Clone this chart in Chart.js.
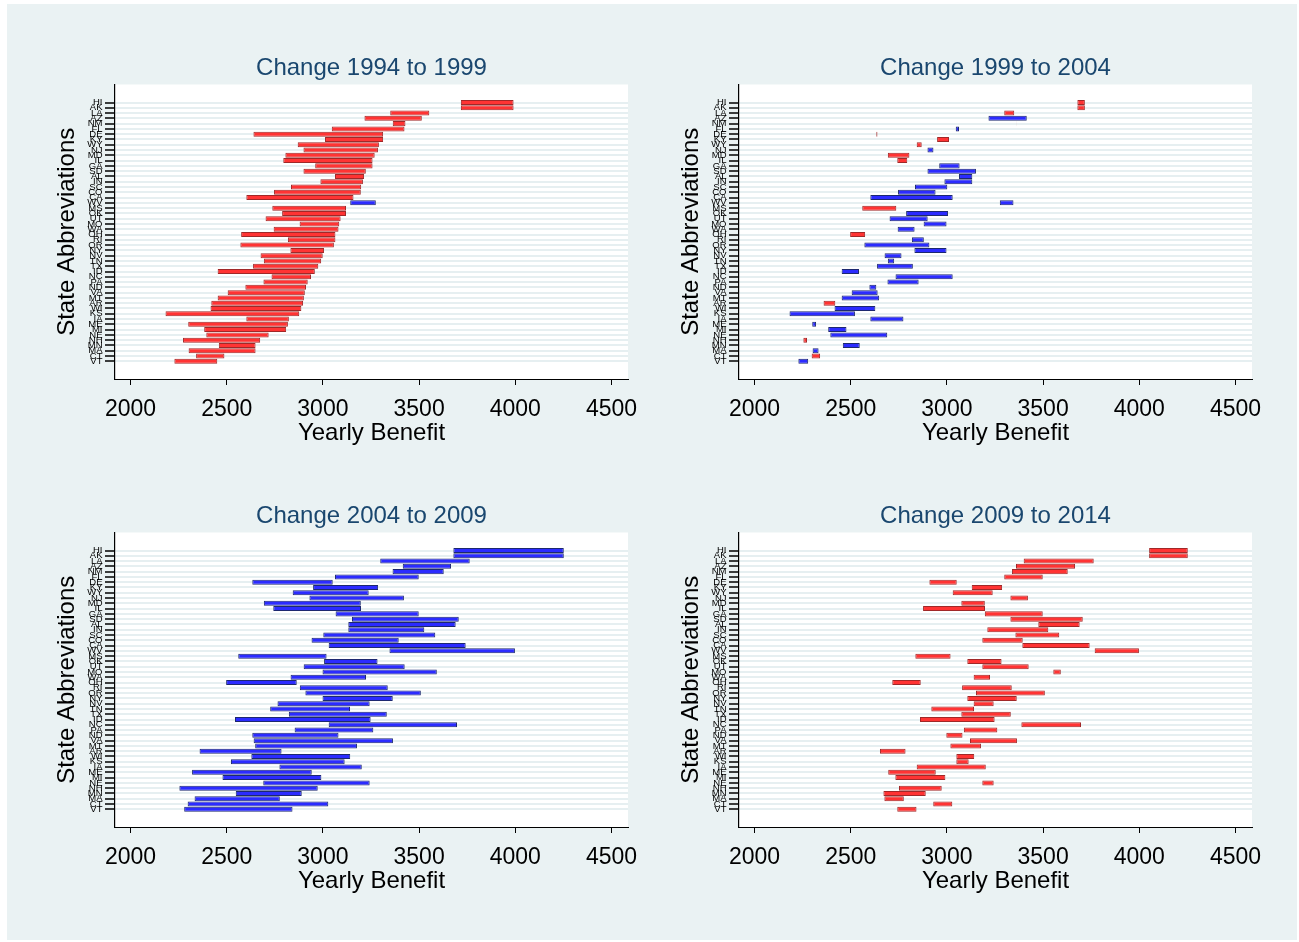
<!DOCTYPE html>
<html>
<head>
<meta charset="utf-8">
<script src="https://cdn.jsdelivr.net/npm/chart.js@4.4.1/dist/chart.umd.min.js"></script>
<style>
  html, body { margin: 0; padding: 0; background: #ffffff; }
  body { width: 1299px; height: 942px; position: relative; overflow: hidden; }
  #bg { position: absolute; left: 7px; top: 4px; width: 1290px; height: 936px; background: #eaf2f3; }
  canvas { position: absolute; }
</style>
</head>
<body>
<div id="bg"></div>
<canvas id="c1" width="660" height="448" style="left:7px;top:4px;"></canvas>
<canvas id="c2" width="660" height="448" style="left:631px;top:4px;"></canvas>
<canvas id="c3" width="660" height="448" style="left:7px;top:452px;"></canvas>
<canvas id="c4" width="660" height="448" style="left:631px;top:452px;"></canvas>
<script>
// ---- data ----
const states = ['HI','AK','LA','AZ','NM','FL','DE','KY','WY','NJ',
                'MD','IL','GA','SD','AL','IN','SC','CO','CA','WV',
                'MS','OK','UT','MO','WA','OH','RI','OR','NY','NV',
                'TN','TX','ID','NC','PA','ND','VA','MT','AR','WI',
                'KS','IA','ME','MI','NE','NH','MN','MA','CT','VT'];

const v1994 = [3991,3991,3553,3514,3429,3424,3313,3313,3291,3286,
               3269,3258,3258,3223,3214,3208,3199,3197,3159,3142,
               3120,3120,3092,3085,3081,3065,3065,3057,3006,2999,
               2991,2976,2958,2938,2921,2912,2906,2901,2897,2888,
               2877,2823,2818,2809,2718,2674,2650,2650,2488,2451];

const v1999 = [3717,3717,3350,3216,3363,3046,2639,3011,2869,2899,
               2805,2794,2960,2899,3063,2987,2834,2746,2602,3275,
               2737,2788,2702,2879,2744,2575,2818,2571,2831,2676,
               2693,2637,2453,2733,2691,2597,2505,2453,2420,2416,
               2182,2602,2300,2383,2394,2273,2459,2302,2341,2228];

const v2004 = [3678,3678,3298,3415,3362,3063,2633,2949,2843,2930,
               2693,2742,3066,3151,3132,3132,3002,2941,3030,3346,
               2560,3006,2900,2998,2832,2497,2880,2909,2998,2764,
               2726,2823,2543,3030,2853,2633,2640,2648,2359,2628,
               2522,2774,2320,2478,2690,2254,2547,2333,2297,2279];

const v2009 = [4252,4252,3763,3666,3628,3498,3051,3287,3238,3421,
               3197,3198,3498,3706,3690,3527,3584,3394,3742,3998,
               3019,3284,3425,3592,3224,2864,3337,3509,3363,3243,
               3141,3332,3248,3697,3262,3081,3364,3177,2785,3142,
               3113,3202,2942,2992,3243,2973,2890,2776,3028,2842];

const v2014 = [4051,4051,3399,3359,3338,3298,2909,3129,3030,3330,
               3075,2876,3197,3330,3475,3210,3356,3184,3392,3768,
               2836,3106,3184,3553,3139,2716,3079,3151,3106,3139,
               2919,3075,2860,3387,3088,2997,3120,3018,2652,3049,
               3049,2843,2695,2732,3184,2751,2670,2675,2929,2742];

const xTicks = [2000, 2500, 3000, 3500, 4000, 4500];
const panelTitles = ['Change 1994 to 1999', 'Change 1999 to 2004', 'Change 2004 to 2009', 'Change 2009 to 2014'];
const panelFrom = [v1994, v1999, v2004, v2009];
const panelTo   = [v1999, v2004, v2009, v2014];

// ---- styling ----
const FONT = "'Liberation Sans', Arial, Helvetica, sans-serif";
const RED_FILL = '#ff3333', RED_EDGE = '#a02828';
const BLUE_FILL = '#2b2bff', BLUE_EDGE = '#1c2870';
const GRID = '#e6eff1';

const plotBg = {
  id: 'plotBg',
  beforeDraw(chart) {
    const { ctx, chartArea: a } = chart;
    ctx.save();
    ctx.fillStyle = '#ffffff';
    ctx.fillRect(a.left, a.top, a.right - a.left, a.bottom - a.top);
    ctx.restore();
  }
};

function makeChart(id, from, to, title) {
  const data = from.map((a, i) => ({ x: [Math.min(a, to[i]), Math.max(a, to[i])], y: i + 1 }));
  const up = from.map((a, i) => to[i] > a);
  new Chart(document.getElementById(id), {
    type: 'bar',
    data: {
      datasets: [{
        data: data,
        backgroundColor: up.map(u => u ? BLUE_FILL : RED_FILL),
        borderColor: up.map(u => u ? BLUE_EDGE : RED_EDGE),
        borderWidth: 1,
        borderSkipped: false,
        categoryPercentage: 1.0,
        barPercentage: 0.95
      }]
    },
    options: {
      indexAxis: 'y',
      responsive: false,
      animation: false,
      devicePixelRatio: 1,
      layout: { padding: { left: 30, right: 39, top: 0, bottom: 2 } },
      plugins: {
        legend: { display: false },
        tooltip: { enabled: false },
        title: {
          display: true,
          text: title,
          fullSize: false,
          color: '#1a476f',
          font: { family: FONT, size: 24, weight: 'normal' },
          padding: { top: 49.6, bottom: 2.1 }
        }
      },
      scales: {
        x: {
          type: 'linear',
          min: 1919.4,
          max: 4585.7,
          afterBuildTicks(scale) { scale.ticks = xTicks.map(v => ({ value: v })); },
          afterFit(scale) { scale.height = 71; scale.paddingLeft = 0; scale.paddingRight = 0; },
          ticks: {
            color: '#000',
            font: { family: FONT, size: 23 },
            padding: 10.5,
            maxRotation: 0,
            autoSkip: false,
            callback: v => String(v)
          },
          grid: { drawOnChartArea: false, drawTicks: true, tickLength: 6, tickColor: '#000', tickWidth: 1 },
          border: { display: true, color: '#000', width: 1 },
          title: {
            display: true,
            text: 'Yearly Benefit',
            color: '#000',
            font: { family: FONT, size: 24 },
            padding: { top: 0, bottom: 2.3 }
          }
        },
        y: {
          type: 'linear',
          reverse: true,
          offset: false,
          min: -2.408,
          max: 53.35,
          afterBuildTicks(scale) { scale.ticks = states.map((s, i) => ({ value: i + 1 })); },
          afterFit(scale) { scale.width = 78; scale.paddingTop = 0; scale.paddingBottom = 0; },
          ticks: {
            color: '#000',
            font: { family: FONT, size: 9.5 },
            padding: 2.5,
            autoSkip: false,
            callback: v => states[v - 1] || ''
          },
          grid: { offset: false, color: GRID, lineWidth: 2, drawTicks: true, tickLength: 10, tickColor: '#000', tickWidth: 1.5 },
          border: { display: true, color: '#000', width: 1.2 },
          title: {
            display: true,
            text: 'State Abbreviations',
            color: '#000',
            font: { family: FONT, size: 24 },
            padding: { top: 15.6, bottom: 0 }
          }
        }
      }
    },
    plugins: [plotBg]
  });
}

['c1', 'c2', 'c3', 'c4'].forEach((id, k) => makeChart(id, panelFrom[k], panelTo[k], panelTitles[k]));
</script>
</body>
</html>
